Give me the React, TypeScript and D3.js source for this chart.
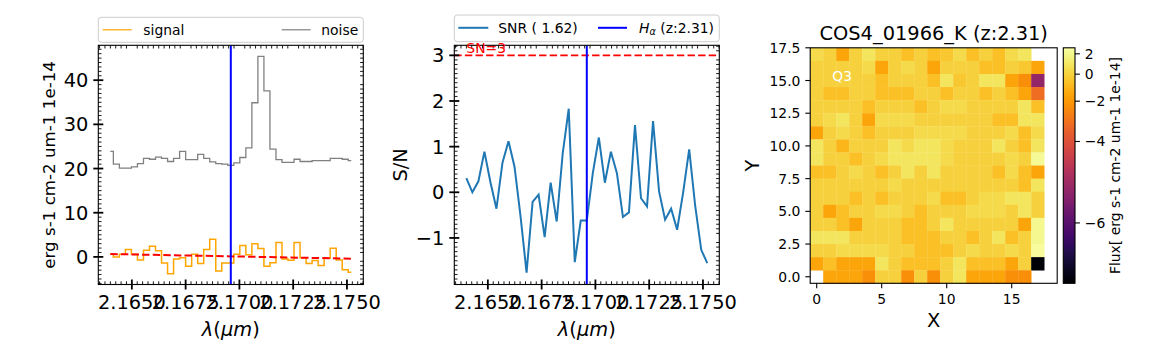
import React from 'react';
import * as d3 from 'd3';

// ---------------- data ----------------
const WAVELENGTH = [
  2.16400, 2.16428, 2.16456, 2.16484, 2.16512, 2.16540, 2.16568, 2.16596, 2.16624, 2.16652,
  2.16680, 2.16708, 2.16736, 2.16764, 2.16792, 2.16820, 2.16848, 2.16876, 2.16904, 2.16932,
  2.16960, 2.16988, 2.17016, 2.17044, 2.17072, 2.17100, 2.17128, 2.17156, 2.17184, 2.17212,
  2.17240, 2.17268, 2.17296, 2.17324, 2.17352, 2.17380, 2.17408, 2.17436, 2.17464, 2.17492,
  2.17520,
];

const SIGNAL = [
  0.6, 0.0, 0.6, 1.7, 0.6, -0.7, 1.5, 2.4, 1.4, -1.4,
  -3.8, -0.5, -0.2, -2.1, 0.6, -1.5, 1.7, 4.0, -3.2, -1.4,
  -1.4, 0.6, 2.6, 0.5, 3.0, 1.9, -2.1, -1.35, 3.25, -0.5,
  -0.75, 3.25, -0.2, -1.5, -0.8, -1.95, -0.3, 1.95, -0.7, -2.9,
  -3.5,
];

const NOISE = [
  23.9, 21.0, 20.1, 20.1, 20.4, 21.1, 22.3, 22.1, 22.6, 22.3,
  21.6, 22.3, 23.9, 22.0, 22.0, 23.2, 22.3, 21.5, 21.1, 21.0,
  20.7, 21.3, 22.5, 24.7, 34.9, 45.4, 37.6, 24.4, 22.0, 21.4,
  21.4, 22.1, 21.6, 21.6, 21.8, 21.8, 21.8, 22.3, 22.3, 22.1,
  21.8,
];

const SNR = [
  0.31, 0.0, 0.24, 0.89, 0.22, -0.36, 0.65, 1.12, 0.56, -0.53,
  -1.76, -0.21, -0.05, -0.98, 0.21, -0.64, 0.85, 1.83, -1.53, -0.62,
  -0.62, 0.42, 1.2, 0.21, 0.89, 0.42, -0.54, -0.44, 1.47, -0.13,
  -0.31, 1.56, 0.02, -0.6, -0.36, -0.82, 0.0, 0.94, -0.3, -1.26,
  -1.55,
];

// continuum fit at the first and last wavelength
const CONTINUUM = [0.65, -0.4];
const H_ALPHA = 2.1696;
const SN_LEVEL = 3;

const WAVE_TICKS = [2.165, 2.1675, 2.17, 2.1725, 2.175];
const FLUX_TICKS = [0, 10, 20, 30, 40];
const SNR_TICKS = [-1, 0, 1, 2, 3];

const TITLE = 'COS4_01966_K (z:2.31)';
const SNR_LEGEND = 'SNR ( 1.62)';
const Z_LEGEND = ' (z:2.31)';
const QUADRANT = 'Q3';

// flux map, listed from the top row (y = 17) down to the bottom row (y = 0); null = no data
const FLUX_MAP = [
  [0.45, 0, -1.6, 0, 0.9, 0, 0, -0.7, 0, -0.7, -0.35, 0.45, -0.7, 0, -0.7, 0.45, 0.9, null, null],
  [0, 0, 0, 0, 0.45, -1.6, 0, 0.45, 0, -1.6, 0, 0, 0, -0.7, -0.7, 0, -0.35, -1.6, null],
  [0, 0, 0, 0, 0, -0.7, 0, 0, 0, -0.7, 0.9, -0.35, 0, 0.9, 0.9, -1.6, -2.3, -5.4, null],
  [0, -0.7, -0.7, 0, 0, -0.7, -0.7, -0.7, 0, 0, -0.7, 0, 0, -0.7, 0, -0.7, -1.6, -3.3, null],
  [0, 0, 0, 0, -0.7, 0, 0, 0, -0.7, 0, 0.45, 0.45, 0, 0, 0, 0, 0.9, -0.7, null],
  [0, 0.45, 0.9, 0, -1.6, 0.45, 0.45, 0.45, 0, 0, 0, 0, 0, 0, -0.7, -0.7, 0.9, 0.9, null],
  [-1.6, 0, 0.45, 0, -0.7, 0, 0, 0, 0.45, 0.45, 0.45, 0.45, 0, 0, 0, 0.45, -0.7, 0.45, null],
  [0.9, 0, -1.0, 0, 0, 0, 0.9, 0.45, 0.9, 0.9, 0.45, 0, 0, 0, 0.9, 0, -0.7, 0.9, null],
  [0.9, 0, 0, -0.7, 0, 0.45, 0.9, 0.9, 0.9, 0.9, 0.45, 0, 0, 0, 0, 0.45, 0, 2.2, null],
  [-0.7, -0.7, 0, 0.45, 0, -0.7, 0, 0.9, 0, 0.9, 0, 0, 0, 0, -0.7, 0.45, -0.7, -1.6, null],
  [0, 0, 0, 0, 0, 0, 0.45, 0, 0, 0, 0, 0, 0, 0, 0, 0, -0.7, 0.9, null],
  [0, 0, 0, -0.7, 0, -0.7, 0, 0, 0, 0.45, -0.7, -0.7, 0, 0.45, 0.45, 0.9, 0.9, 0, null],
  [0, -1.6, -0.7, 0, 0, 0.45, 0.45, 0, -0.7, 0, 0, 0, 0.45, 0.45, 0.45, 0, 0.9, 0, null],
  [0, 0, -0.7, -1.6, 0, 0, 0, -0.7, -0.7, 0, 0.9, 0, 0, 0, 0, 0, -1.6, 2.0, null],
  [0.9, 0.9, 0.9, 0, 0, 0, 0, -0.7, -0.7, -0.7, 0, 0, -0.7, 0, 0.9, -0.7, 0, 2.0, null],
  [0, 0, 0.45, 0.45, 0.45, 0.45, 0, 0, -0.7, -0.7, -0.7, 0, 0.45, 0, 0, 0.45, 0, 2.4, null],
  [-1.6, -0.7, -1.6, -1.6, -1.6, 0.9, 0, -0.7, -0.7, -0.7, 0, 0.9, -0.7, -0.7, -0.7, -1.6, 0, -6.6, null],
  [null, -1.6, -1.6, -1.6, -2.3, 0, 0, -2.3, 0, -2.3, 0, 0.9, -1.6, -1.6, -1.6, -2.3, -2.3, null, null],
];
const MAP_X_TICKS = [0, 5, 10, 15];
const MAP_Y_TICKS = [0, 2.5, 5, 7.5, 10, 12.5, 15, 17.5];
const CBAR_TICKS = [2, 0, -2, -4, -6];
const CBAR_RANGE = [-6.62, 2.69];
const CBAR_SHIFT = 7.2; // log-type norm applied to (value + shift)

// ---------------- layout ----------------
const FONT = 'DejaVu Sans, Verdana, sans-serif';
type Box = { x0: number; x1: number; y0: number; y1: number };
const LEFT: Box = { x0: 98.3, x1: 363.3, y0: 45.3, y1: 284.5 };
const MID: Box = { x0: 454.3, x1: 719.3, y0: 45.3, y1: 284.5 };
const MAPB: Box = { x0: 810.2, x1: 1057.2, y0: 47.8, y1: 283.3 };
const CBB: Box = { x0: 1063.3, x1: 1075, y0: 47.8, y1: 283.3 };
const WAVE_DOMAIN: [number, number] = [2.16344, 2.17576];
const TICK_FS = 19.4;
const LABEL_FS = 19.4;
const SMALL_FS = 13.9;

const fmtMinus = (s: string) => s.replace('-', '\u2212');

function minorValues(lo: number, hi: number, step: number) {
  const out: number[] = [];
  const a = Math.ceil(lo / step - 1e-6);
  const b = Math.floor(hi / step + 1e-6);
  for (let i = a; i <= b; i++) if (i % 10 !== 0) out.push(i * step);
  return out;
}

function SpecFrame(props: {
  box: Box;
  xs: d3.ScaleLinear<number, number>;
  ys: d3.ScaleLinear<number, number>;
  yTicks: number[];
  xMinor: number;
  yMinor: number;
}) {
  const { box, xs, ys, yTicks, xMinor, yMinor } = props;
  const xd = xs.domain();
  const yd = ys.domain();
  const xm = minorValues(xd[0], xd[1], xMinor);
  const ym = minorValues(yd[0], yd[1], yMinor);
  const ml = 3.2;
  const M = 5;
  return (
    <g>
      <rect x={box.x0} y={box.y0} width={box.x1 - box.x0} height={box.y1 - box.y0} fill="none" stroke="#000" strokeWidth={1.1} />
      {xm.map((v, i) => (
        <g key={'xm' + i} stroke="#000" strokeWidth={0.9}>
          <line x1={xs(v)} x2={xs(v)} y1={box.y1} y2={box.y1 - ml} />
          <line x1={xs(v)} x2={xs(v)} y1={box.y0} y2={box.y0 + ml} />
        </g>
      ))}
      {ym.map((v, i) => (
        <g key={'ym' + i} stroke="#000" strokeWidth={0.9}>
          <line x1={box.x0} x2={box.x0 + ml} y1={ys(v)} y2={ys(v)} />
          <line x1={box.x1} x2={box.x1 - ml} y1={ys(v)} y2={ys(v)} />
        </g>
      ))}
      {WAVE_TICKS.map((t, i) => (
        <g key={'xt' + i}>
          <line x1={xs(t)} x2={xs(t)} y1={box.y1 - M} y2={box.y1 + M} stroke="#000" strokeWidth={1.8} />
          <text x={xs(t)} y={box.y1 + M + 4.9 + TICK_FS * 0.74} textAnchor="middle" fontSize={TICK_FS} fontFamily={FONT}>
            {t.toFixed(4)}
          </text>
        </g>
      ))}
      {yTicks.map((t, i) => (
        <g key={'yt' + i}>
          <line x1={box.x0 - M} x2={box.x0 + M} y1={ys(t)} y2={ys(t)} stroke="#000" strokeWidth={1.8} />
          <text x={box.x0 - M - 4.9} y={ys(t) + TICK_FS * 0.36} textAnchor="end" fontSize={TICK_FS} fontFamily={FONT}>
            {fmtMinus(String(t))}
          </text>
        </g>
      ))}
      <text x={(box.x0 + box.x1) / 2} y={336} textAnchor="middle" fontSize={LABEL_FS} fontFamily={FONT}>
        <tspan fontStyle="italic">λ</tspan>(<tspan fontStyle="italic">μm</tspan>)
      </text>
    </g>
  );
}

function LegendBox({ box, top, bottom }: { box: Box; top: number; bottom: number }) {
  return (
    <rect x={box.x0} y={top} width={box.x1 - box.x0} height={bottom - top} rx={3} ry={3}
      fill="#fff" fillOpacity={0.8} stroke="#cccccc" strokeWidth={1} />
  );
}

export default function App() {
  // ------- left panel -------
  const xL = d3.scaleLinear().domain(WAVE_DOMAIN).range([LEFT.x0, LEFT.x1]);
  const yL = d3.scaleLinear().domain([-6.25, 47.9]).range([LEFT.y1, LEFT.y0]);
  const stepL = d3.line<number>().x((_, i) => xL(WAVELENGTH[i])).curve(d3.curveStep);
  const signalPath = stepL.y((d) => yL(d))(SIGNAL) || '';
  const noisePath = stepL.y((d) => yL(d))(NOISE) || '';
  const contPath = d3.line<number>().x((_, i) => xL(WAVELENGTH[i === 0 ? 0 : WAVELENGTH.length - 1])).y((d) => yL(d))(CONTINUUM) || '';

  // ------- middle panel -------
  const xM = d3.scaleLinear().domain(WAVE_DOMAIN).range([MID.x0, MID.x1]);
  const yM = d3.scaleLinear().domain([-2.02, 3.22]).range([MID.y1, MID.y0]);
  const snrPath = d3.line<number>().x((_, i) => xM(WAVELENGTH[i])).y((d) => yM(d))(SNR) || '';

  // ------- right panel -------
  const xH = d3.scaleLinear().domain([-0.5, 18.5]).range([MAPB.x0, MAPB.x1]);
  const yH = d3.scaleLinear().domain([-0.5, 17.5]).range([MAPB.y1, MAPB.y0]);
  const norm = d3.scaleLog().domain([CBAR_RANGE[0] + CBAR_SHIFT, CBAR_RANGE[1] + CBAR_SHIFT]).range([0, 1]).clamp(true);
  const colorOf = (v: number) => d3.interpolateInferno(norm(v + CBAR_SHIFT));
  const cbY = d3.scaleLog().domain([CBAR_RANGE[0] + CBAR_SHIFT, CBAR_RANGE[1] + CBAR_SHIFT]).range([CBB.y1, CBB.y0]);
  const nRows = FLUX_MAP.length;
  const cells: { x: number; y: number; v: number }[] = [];
  FLUX_MAP.forEach((row, ri) => {
    const yv = nRows - 1 - ri;
    row.forEach((v, xi) => {
      if (v !== null) cells.push({ x: xi, y: yv, v });
    });
  });
  const gradStops = d3.range(0, 1.0001, 0.02);

  return (
    <svg width={1150} height={350} style={{ position: 'absolute', left: 0, top: 0 }} fontFamily={FONT}>
      <defs>
        <clipPath id="clipL"><rect x={LEFT.x0} y={LEFT.y0} width={LEFT.x1 - LEFT.x0} height={LEFT.y1 - LEFT.y0} /></clipPath>
        <clipPath id="clipM"><rect x={MID.x0} y={MID.y0} width={MID.x1 - MID.x0} height={MID.y1 - MID.y0} /></clipPath>
        <linearGradient id="inferno" x1="0" y1="1" x2="0" y2="0">
          {gradStops.map((t, i) => (
            <stop key={i} offset={t} stopColor={d3.interpolateInferno(t)} />
          ))}
        </linearGradient>
      </defs>
      <rect x={0} y={0} width={1150} height={350} fill="#fff" />

      {/* ---------- left panel ---------- */}
      <g clipPath="url(#clipL)">
        <path d={noisePath} fill="none" stroke="#808080" strokeWidth={1.3} />
        <path d={signalPath} fill="none" stroke="#ffa500" strokeWidth={1.5} />
        <path d={contPath} fill="none" stroke="#ff0000" strokeWidth={2} strokeDasharray="7.4 3.2" />
        <line x1={xL(H_ALPHA)} x2={xL(H_ALPHA)} y1={LEFT.y0} y2={LEFT.y1} stroke="#0000ff" strokeWidth={2} />
      </g>
      <SpecFrame box={LEFT} xs={xL} ys={yL} yTicks={FLUX_TICKS} xMinor={0.00025} yMinor={1} />
      <text transform={`translate(55,${(LEFT.y0 + LEFT.y1) / 2}) rotate(-90)`} textAnchor="middle" fontSize={16.7}>
        erg s-1 cm-2 um-1 1e-14
      </text>
      <LegendBox box={LEFT} top={17.3} bottom={42.3} />
      <line x1={102.7} x2={131.7} y1={29.8} y2={29.8} stroke="#ffa500" strokeWidth={1.2} />
      <text x={143.3} y={34.6} fontSize={SMALL_FS}>signal</text>
      <line x1={281.7} x2={310.7} y1={29.8} y2={29.8} stroke="#808080" strokeWidth={1.2} />
      <text x={321.3} y={34.6} fontSize={SMALL_FS}>noise</text>

      {/* ---------- middle panel ---------- */}
      <g clipPath="url(#clipM)">
        <line x1={MID.x0} x2={MID.x1} y1={yM(SN_LEVEL)} y2={yM(SN_LEVEL)} stroke="#ff0000" strokeWidth={1.8} strokeDasharray="7.4 3.2" />
        <path d={snrPath} fill="none" stroke="#1f77b4" strokeWidth={2} />
        <line x1={xM(H_ALPHA)} x2={xM(H_ALPHA)} y1={MID.y0} y2={MID.y1} stroke="#0000ff" strokeWidth={2} />
      </g>
      <SpecFrame box={MID} xs={xM} ys={yM} yTicks={SNR_TICKS} xMinor={0.00025} yMinor={0.1} />
      <text x={xM(WAVELENGTH[0])} y={yM(3.05)} fill="#ff0000" fontSize={SMALL_FS}>SN=3</text>
      <text transform={`translate(407,${(MID.y0 + MID.y1) / 2}) rotate(-90)`} textAnchor="middle" fontSize={LABEL_FS}>
        S/N
      </text>
      <LegendBox box={MID} top={15} bottom={41.7} />
      <line x1={458.3} x2={488.3} y1={27.8} y2={27.8} stroke="#1f77b4" strokeWidth={2} />
      <text x={498.3} y={32.6} fontSize={SMALL_FS}>{SNR_LEGEND}</text>
      <line x1={598} x2={627} y1={27.8} y2={27.8} stroke="#0000ff" strokeWidth={2} />
      <text x={639} y={32.6} fontSize={SMALL_FS}>
        <tspan fontStyle="italic">H</tspan>
        <tspan fontStyle="italic" fontSize={9.7} dy={2.6}>α</tspan>
        <tspan dy={-2.6}>{Z_LEGEND}</tspan>
      </text>

      {/* ---------- right panel ---------- */}
      {cells.map((c, i) => (
        <rect key={i} x={xH(c.x - 0.5)} y={yH(c.y + 0.5)} width={xH(c.x + 0.5) - xH(c.x - 0.5) + 0.3}
          height={yH(c.y - 0.5) - yH(c.y + 0.5) + 0.3} fill={colorOf(c.v)} />
      ))}
      <text x={xH(1.2)} y={yH(15)} fill="#fff" fontSize={SMALL_FS}>{QUADRANT}</text>
      <rect x={MAPB.x0} y={MAPB.y0} width={MAPB.x1 - MAPB.x0} height={MAPB.y1 - MAPB.y0} fill="none" stroke="#000" strokeWidth={1.1} />
      {MAP_X_TICKS.map((t) => (
        <g key={'hx' + t}>
          <line x1={xH(t)} x2={xH(t)} y1={MAPB.y1} y2={MAPB.y1 + 4.9} stroke="#000" strokeWidth={1.1} />
          <text x={xH(t)} y={MAPB.y1 + 4.9 + 4.9 + 10.6} textAnchor="middle" fontSize={SMALL_FS}>{t}</text>
        </g>
      ))}
      {MAP_Y_TICKS.map((t) => (
        <g key={'hy' + t}>
          <line x1={MAPB.x0 - 4.9} x2={MAPB.x0} y1={yH(t)} y2={yH(t)} stroke="#000" strokeWidth={1.1} />
          <text x={MAPB.x0 - 9.8} y={yH(t) + 5} textAnchor="end" fontSize={SMALL_FS}>{t.toFixed(1)}</text>
        </g>
      ))}
      <text x={(MAPB.x0 + MAPB.x1) / 2} y={MAPB.y0 - 8.3} textAnchor="middle" fontSize={LABEL_FS}>{TITLE}</text>
      <text x={(MAPB.x0 + MAPB.x1) / 2} y={327} textAnchor="middle" fontSize={LABEL_FS}>X</text>
      <text transform={`translate(759,${(MAPB.y0 + MAPB.y1) / 2}) rotate(-90)`} textAnchor="middle" fontSize={LABEL_FS}>Y</text>

      {/* colorbar */}
      <rect x={CBB.x0} y={CBB.y0} width={CBB.x1 - CBB.x0} height={CBB.y1 - CBB.y0} fill="url(#inferno)" stroke="#000" strokeWidth={1.1} />
      {CBAR_TICKS.map((t) => (
        <g key={'cb' + t}>
          <line x1={CBB.x1} x2={CBB.x1 + 4.9} y1={cbY(t + CBAR_SHIFT)} y2={cbY(t + CBAR_SHIFT)} stroke="#000" strokeWidth={1.1} />
          <text x={CBB.x1 + 9.8} y={cbY(t + CBAR_SHIFT) + 5} fontSize={SMALL_FS}>{fmtMinus(String(t))}</text>
        </g>
      ))}
      <text transform={`translate(1120,${(CBB.y0 + CBB.y1) / 2}) rotate(-90)`} textAnchor="middle" fontSize={SMALL_FS}>
        Flux[ erg s-1 cm-2 um-1 1e-14]
      </text>
    </svg>
  );
}
